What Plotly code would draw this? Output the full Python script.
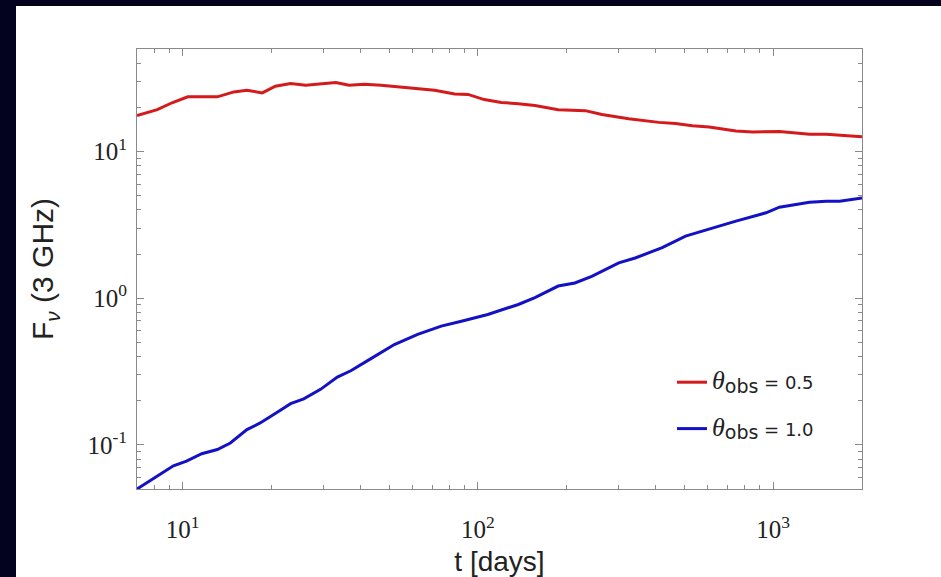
import math
import plotly.graph_objects as go

# ---- data ----
t_red = [7.0, 8.2, 9.2, 10.4, 13.1, 14.9, 16.5, 18.6, 20.6, 23.2, 26.1, 29.4, 33.0, 36.6,
         41.2, 47.0, 53.5, 61.0, 71.3, 83.4, 92.6, 105, 120, 137, 156, 187, 231, 263, 324,
         410, 467, 532, 607, 748, 852, 1050, 1328, 1513, 2000]
F_red = [17.6, 19.3, 21.5, 23.6, 23.6, 25.5, 26.2, 25.1, 27.9, 29.1, 28.3, 28.9, 29.5, 28.3,
         28.8, 28.3, 27.7, 26.9, 26.2, 24.7, 24.5, 22.6, 21.6, 21.2, 20.6, 19.3, 19.0, 17.9, 16.7,
         15.8, 15.5, 15.0, 14.7, 13.8, 13.6, 13.7, 13.1, 13.1, 12.6]

t_blue = [7.0, 8.2, 9.3, 10.3, 11.6, 13.1, 14.5, 16.5, 18.3, 20.9, 23.2, 25.7, 29.3, 33.4,
          37.1, 42.3, 52.1, 62.5, 75.1, 87.9, 108, 137, 156, 187, 213, 243, 300, 341, 421,
          505, 575, 656, 748, 946, 1050, 1328, 1513, 1680, 2000]
F_blue = [0.050, 0.061, 0.072, 0.0775, 0.087, 0.093, 0.103, 0.127, 0.141, 0.167, 0.191, 0.206,
          0.239, 0.29, 0.32, 0.375, 0.483, 0.566, 0.645, 0.697, 0.774, 0.906, 1.01, 1.21, 1.27,
          1.41, 1.74, 1.88, 2.21, 2.65, 2.85, 3.10, 3.35, 3.82, 4.17, 4.51, 4.58, 4.58, 4.83]

theta_obs = ["0.5", "1.0"]

x_tickvals = [10, 100, 1000]
x_ticktext = ["10<sup>1</sup>", "10<sup>2</sup>", "10<sup>3</sup>"]
y_tickvals = [0.1, 1, 10]
y_ticktext = ["10<sup>-1</sup>", "10<sup>0</sup>", "10<sup>1</sup>"]
minor_x = [m * 10 ** k for k in range(0, 4) for m in range(2, 10)]
minor_y = [m * 10 ** k for k in range(-2, 2) for m in range(2, 10)]

x_range = [7, 2000]
y_range = [0.05, 50]

# ---- layout geometry ----
W, H = 941, 577
L, R, T, B = 137, 862, 49, 489
PW, PH = R - L, B - T


def px_x(p):
    return (p - L) / PW


def px_y(p):
    return (B - p) / PH


DARK = "#03031f"
AX = "#8a8a8a"
TXT = "#222222"


def legend_name(v):
    return ("<span style='font-family:Liberation Serif;font-size:26px'><i>θ</i></span>"
            "<sub><span style='font-size:19px'>obs</span></sub> = " + v)


fig = go.Figure()
fig.add_trace(go.Scatter(x=t_red, y=F_red, mode="lines", name=legend_name(theta_obs[0]),
                         legendgroup="a", line=dict(color="#d41a1a", width=3)))
fig.add_trace(go.Scatter(x=t_blue, y=F_blue, mode="lines", name=legend_name(theta_obs[1]),
                         legendgroup="b", line=dict(color="#1212c4", width=3)))

axis_common = dict(
    type="log", showline=True, linecolor=AX, linewidth=1, mirror="ticks",
    ticks="inside", ticklen=7, tickcolor=AX, tickwidth=1, showgrid=False, zeroline=False,
    tickfont=dict(family="Liberation Serif", size=25, color=TXT),
)

fig.update_xaxes(**axis_common, range=[math.log10(x_range[0]), math.log10(x_range[1])],
                 tickvals=x_tickvals, ticktext=x_ticktext, ticklabelstandoff=18,
                 minor=dict(ticks="inside", ticklen=4, tickcolor=AX, tickwidth=1, showgrid=False,
                            tickvals=minor_x),
                 title=dict(text="t [days]", font=dict(family="Liberation Sans", size=28, color=TXT),
                            standoff=38))
fig.update_yaxes(**axis_common, range=[math.log10(y_range[0]), math.log10(y_range[1])],
                 tickvals=y_tickvals, ticktext=y_ticktext, ticklabelstandoff=4,
                 minor=dict(ticks="inside", ticklen=4, tickcolor=AX, tickwidth=1, showgrid=False,
                            tickvals=minor_y),
                 title=dict(text="F<sub><i>ν</i></sub> (3 GHz)",
                            font=dict(family="Liberation Sans", size=30, color=TXT),
                            standoff=24))

shapes = [
    dict(type="rect", xref="paper", yref="paper", x0=px_x(-5), x1=px_x(16), y0=px_y(H + 5), y1=px_y(-5),
         fillcolor=DARK, line=dict(width=0), layer="above"),
    dict(type="rect", xref="paper", yref="paper", x0=px_x(-5), x1=px_x(W + 5), y0=px_y(6), y1=px_y(-5),
         fillcolor=DARK, line=dict(width=0), layer="above"),
]

fig.update_layout(
    width=W, height=H, autosize=False,
    margin=dict(l=L, r=W - R, t=T, b=H - B, autoexpand=False),
    paper_bgcolor="white", plot_bgcolor="white",
    font=dict(family="DejaVu Sans", color=TXT),
    shapes=shapes,
    showlegend=True,
    legend=dict(x=px_x(672), y=px_y(364), xanchor="left", yanchor="top",
                bgcolor="rgba(0,0,0,0)", font=dict(family="DejaVu Sans", size=18, color=TXT),
                tracegroupgap=20, itemwidth=30),
)

fig.write_html("out.html", config={"displayModeBar": False},
               post_script="document.body.style.margin='0';document.body.style.overflow='hidden';")
